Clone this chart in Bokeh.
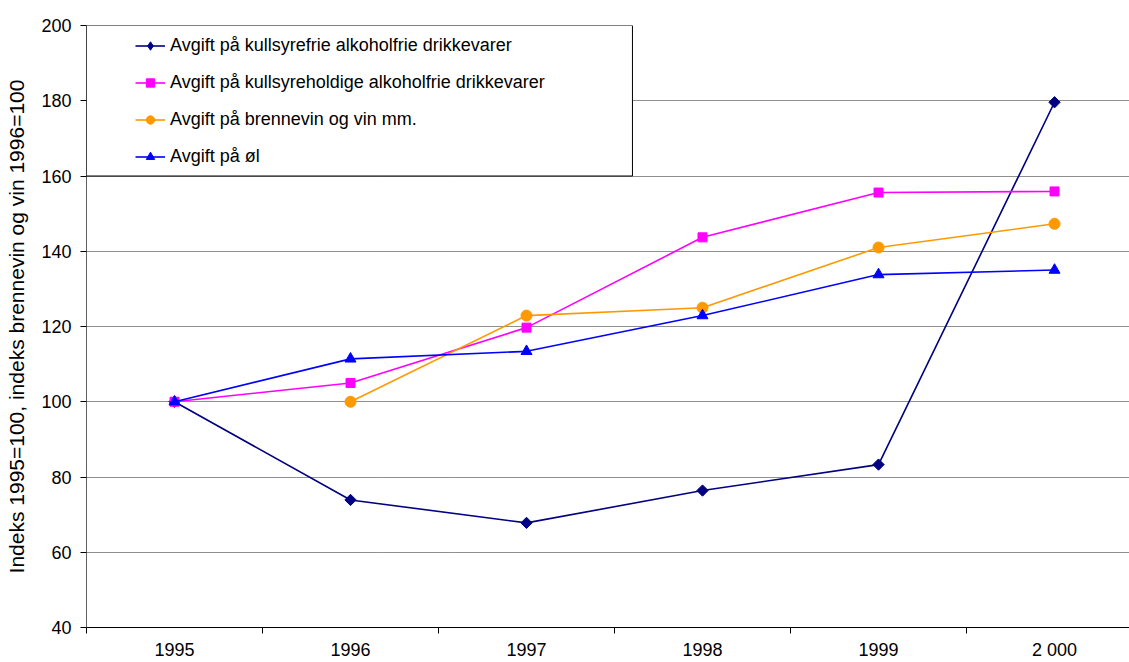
import math
from bokeh.plotting import figure
from bokeh.models import (Range1d, FixedTicker, Legend, LegendItem, BoxAnnotation,
                          ColumnDataSource)
from bokeh.embed import file_html
from bokeh.resources import INLINE

years = ["1995", "1996", "1997", "1998", "1999", "2 000"]
kullsyrefrie = [100, 73.9, 67.8, 76.4, 83.3, 179.6]
kullsyreholdige = [100, 105.0, 119.7, 143.7, 155.6, 155.9]
brennevin = [float("nan"), 100, 122.9, 125.0, 141.0, 147.3]
ol = [100, 111.4, 113.4, 122.9, 133.8, 135.0]

names = ["Avgift på kullsyrefrie alkoholfrie drikkevarer",
         "Avgift på kullsyreholdige alkoholfrie drikkevarer",
         "Avgift på brennevin og vin mm.",
         "Avgift på øl"]
series = [kullsyrefrie, kullsyreholdige, brennevin, ol]
colors = ["#000080", "#FF00FF", "#FF9900", "#0000FF"]
markers = ["square", "square", "circle", "triangle"]
angles = [math.pi / 4, 0, 0, 0]
msizes = [8, 9, 11, 11]

FONT = "Liberation Sans"
xs = list(range(len(years)))

p = figure(width=1129, height=662, output_backend="svg", toolbar_location=None,
           x_range=Range1d(-0.5, 5.426), y_range=Range1d(40, 200),
           min_border_left=86, min_border_top=25, min_border_right=0,
           min_border_bottom=35, outline_line_color=None)

# x axis: labels at centres, tick marks at band boundaries
p.xaxis.ticker = FixedTicker(ticks=xs, minor_ticks=[i - 0.5 for i in range(len(years) + 1)])
p.xaxis.major_label_overrides = {i: y for i, y in enumerate(years)}
p.xaxis.major_tick_line_color = None
p.xaxis.major_tick_out = 0
p.xaxis.major_tick_in = 0
p.xaxis.minor_tick_out = 6
p.xaxis.minor_tick_in = 0
p.xaxis.minor_tick_line_color = "#000000"
p.xaxis.axis_line_color = "#000000"
p.xaxis.major_label_standoff = 6
p.xaxis.major_label_text_font = FONT
p.xaxis.major_label_text_font_size = "18px"
p.xaxis.major_label_text_color = "#000000"

p.yaxis.ticker = FixedTicker(ticks=list(range(40, 201, 20)))
p.yaxis.minor_tick_line_color = None
p.yaxis.major_tick_out = 6
p.yaxis.major_tick_in = 0
p.yaxis.major_tick_line_color = "#000000"
p.yaxis.axis_line_color = "#606060"
p.yaxis.major_label_standoff = 9
p.yaxis.major_label_text_font = FONT
p.yaxis.major_label_text_font_size = "18px"
p.yaxis.major_label_text_color = "#000000"
p.yaxis.axis_label = "Indeks 1995=100, indeks brennevin og vin 1996=100"
p.yaxis.axis_label_text_font = FONT
p.yaxis.axis_label_text_font_size = "21px"
p.yaxis.axis_label_text_font_style = "normal"
p.yaxis.axis_label_text_color = "#000000"
p.yaxis.axis_label_standoff = 10

p.xgrid.grid_line_color = None
p.ygrid.grid_line_color = "#202020"
p.ygrid.grid_line_dash = "1 1"
p.ygrid.grid_line_width = 1

# legend frame
box = BoxAnnotation(left=-0.5, right=2.602, top=200, bottom=160,
                    fill_color="white", fill_alpha=1.0,
                    line_color="#000000", line_alpha=1.0, line_width=1,
                    level="overlay")
p.add_layout(box)

items = []
for i, (name, vals, c, m, a, s) in enumerate(zip(names, series, colors, markers, angles, msizes)):
    src = ColumnDataSource(dict(x=xs, y=vals))
    ln = p.line("x", "y", source=src, line_color=c, line_width=1.6)
    sc = p.scatter("x", "y", source=src, marker=m, size=s, angle=a,
                   fill_color=c, line_color=c)
    if i == 0:
        # legend proxy (rotated squares are not rotated inside legends)
        proxy = p.scatter(x=[float("nan")], y=[float("nan")], marker="diamond",
                          size=13, fill_color=c, line_color=c)
        items.append(LegendItem(label=name, renderers=[ln, proxy]))
    else:
        items.append(LegendItem(label=name, renderers=[ln, sc]))

legend = Legend(items=items, location=(49, 460),
                padding=0, margin=0, spacing=16, label_height=21, glyph_height=21,
                glyph_width=30, label_standoff=5, border_line_color=None,
                background_fill_alpha=0.0,
                label_text_font=FONT, label_text_font_size="18px",
                label_text_color="#000000")
p.add_layout(legend, "center")

open("out.html", "w").write(file_html(p, INLINE))
